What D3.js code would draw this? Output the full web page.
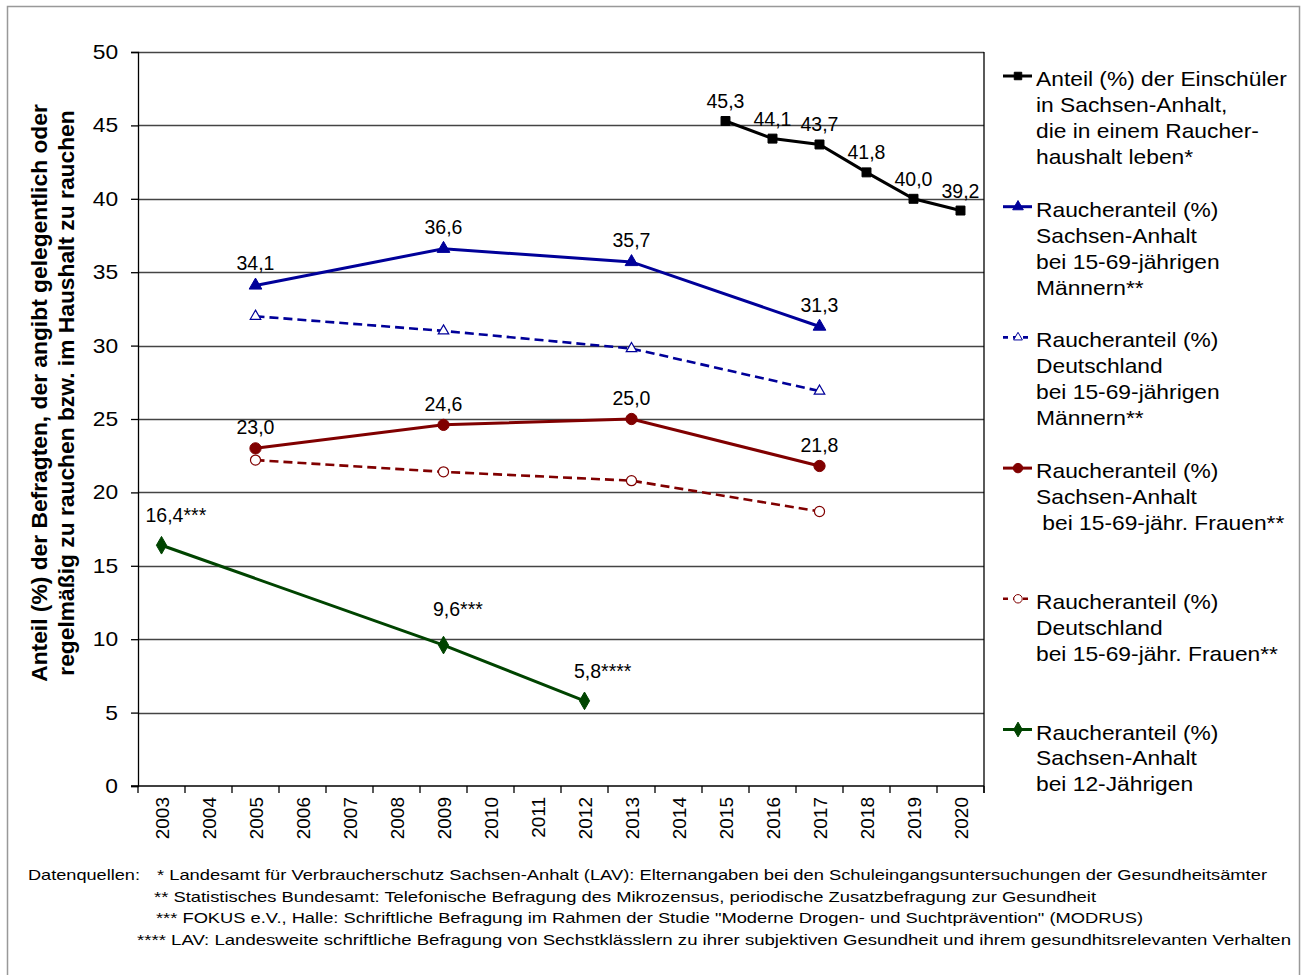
<!DOCTYPE html>
<html>
<head>
<meta charset="utf-8">
<script src="https://cdn.jsdelivr.net/npm/d3@7"></script>
<style>
body { margin: 0; background: #fff; }
text { font-family: "Liberation Sans", Arial, sans-serif; fill: #000; }
</style>
</head>
<body>
<div id="chart"></div>
<script>
var width = 1304, height = 975;

// data
var years = ["2003","2004","2005","2006","2007","2008","2009","2010","2011","2012","2013","2014","2015","2016","2017","2018","2019","2020"];
var yTicks = [0, 5, 10, 15, 20, 25, 30, 35, 40, 45, 50];

var einschuelerYears = ["2015","2016","2017","2018","2019","2020"];
var einschuelerVals = [45.3, 44.1, 43.7, 41.8, 40.0, 39.2];

var svYears = ["2005","2009","2013","2017"];
var saMen = [34.1, 36.6, 35.7, 31.3];
var deMen = [32.0, 31.0, 29.8, 26.9];
var saWomen = [23.0, 24.6, 25.0, 21.8];
var deWomen = [22.2, 21.4, 20.8, 18.7];

var kidsYears = ["2003","2009","2012"];
var kidsVals = [16.4, 9.6, 5.8];
var kidsStars = ["***", "***", "****"];

var legendLabels = [
	["Anteil (%) der Einschüler", "in Sachsen-Anhalt,", "die in einem Raucher-", "haushalt leben*"],
	["Raucheranteil (%)", "Sachsen-Anhalt", "bei 15-69-jährigen", "Männern**"],
	["Raucheranteil (%)", "Deutschland", "bei 15-69-jährigen", "Männern**"],
	["Raucheranteil (%)", "Sachsen-Anhalt", " bei 15-69-jähr. Frauen**"],
	["Raucheranteil (%)", "Deutschland", "bei 15-69-jähr. Frauen**"],
	["Raucheranteil (%)", "Sachsen-Anhalt", "bei 12-Jährigen"]
];

var yTitle = ["Anteil (%) der Befragten, der angibt gelegentlich oder",
	"regelmäßig zu rauchen bzw. im Haushalt zu rauchen"];

var sources = [
	"* Landesamt für Verbraucherschutz Sachsen-Anhalt (LAV): Elternangaben bei den Schuleingangsuntersuchungen der Gesundheitsämter",
	"** Statistisches Bundesamt: Telefonische Befragung des Mikrozensus, periodische Zusatzbefragung zur Gesundheit",
	"*** FOKUS e.V., Halle: Schriftliche Befragung im Rahmen der Studie \"Moderne Drogen- und Suchtprävention\" (MODRUS)",
	"**** LAV: Landesweite schriftliche Befragung von Sechstklässlern zu ihrer subjektiven Gesundheit und ihrem gesundhitsrelevanten Verhalten"
];

var fmt = function(v) { return d3.format(".1f")(v).replace(".", ","); };

var series = [
	{ x: einschuelerYears, v: einschuelerVals, color: "#000000", dash: null, sym: d3.symbolSquare, size: 80, fill: true, labels: true, stars: null, ldy: -13 },
	{ x: svYears, v: saMen, color: "#000099", dash: null, sym: d3.symbolTriangle, size: 70, fill: true, labels: true, stars: null, ldy: -15 },
	{ x: svYears, v: deMen, color: "#000099", dash: "9,5", sym: d3.symbolTriangle, size: 48, fill: false, labels: false },
	{ x: svYears, v: saWomen, color: "#800000", dash: null, sym: d3.symbolCircle, size: 100, fill: true, labels: true, stars: null, ldy: -14 },
	{ x: svYears, v: deWomen, color: "#800000", dash: "9,5", sym: d3.symbolCircle, size: 80, fill: false, labels: false },
	{ x: kidsYears, v: kidsVals, color: "#004400", dash: null, sym: d3.symbolDiamond, size: 90, fill: true, labels: true, stars: kidsStars, ldy: -23 }
];

var plotL = 138, plotR = 984, plotT = 52, plotB = 786;
var stretch = 1.14;   // reference text is a bit wider than Arial

var svg = d3.select("#chart").append("svg").attr("width", width).attr("height", height);

svg.append("rect").attr("x", 7.5).attr("y", 6.5).attr("width", 1292).attr("height", 975)
	.attr("fill", "#fff").attr("stroke", "#999").attr("stroke-width", 1.5);

var x = d3.scaleBand().domain(years).range([plotL, plotR]);
var y = d3.scaleLinear().domain([0, 50]).range([plotB, plotT]);
var cx = function(yr) { return x(yr) + x.bandwidth() / 2; };

//  gridlines
svg.append("g").selectAll("line").data(yTicks.slice(1)).enter().append("line")
	.attr("x1", plotL).attr("x2", plotR)
	.attr("y1", function(d) { return Math.round(y(d)) + .5; })
	.attr("y2", function(d) { return Math.round(y(d)) + .5; })
	.attr("stroke", "#444").attr("stroke-width", 1.3);

//  y axis
var yAxis = svg.append("g").attr("transform", "translate(" + plotL + ",0)")
	.call(d3.axisLeft(y).tickValues(yTicks).tickSize(7).tickPadding(10.5).tickFormat(d3.format("d")));
yAxis.selectAll("text").style("font-size", "20px").attr("fill", "#000")
	.attr("transform", "scale(" + stretch + ",1)");
yAxis.selectAll("line,path").attr("stroke", "#000").attr("stroke-width", 1.3);

//  x axis, ticks between categories
var xAxis = svg.append("g").attr("transform", "translate(0," + plotB + ")");
xAxis.append("line").attr("x1", plotL - 7).attr("x2", plotR).attr("stroke", "#000").attr("stroke-width", 1.3);
xAxis.selectAll("line.tk").data(years.concat(["end"])).enter().append("line").attr("class", "tk")
	.attr("x1", function(d, i) { return plotL + i * x.bandwidth(); })
	.attr("x2", function(d, i) { return plotL + i * x.bandwidth(); })
	.attr("y1", 0).attr("y2", 7).attr("stroke", "#000").attr("stroke-width", 1.3);
xAxis.selectAll("text").data(years).enter().append("text")
	.attr("transform", function(d) { return "translate(" + (cx(d) + 7) + ",11)rotate(-90)"; })
	.attr("text-anchor", "end").style("font-size", "19px").text(function(d) { return d; });

//  right border of plot
svg.append("line").attr("x1", plotR).attr("x2", plotR).attr("y1", plotT).attr("y2", plotB + 7)
	.attr("stroke", "#000").attr("stroke-width", 1.3);

//  series
var line = d3.line().x(function(d) { return cx(d.yr); }).y(function(d) { return y(d.v); });

series.forEach(function(s) {
	var pts = s.v.map(function(v, i) { return { yr: s.x[i], v: v, stars: s.stars ? s.stars[i] : "" }; });
	var g = svg.append("g");
	g.append("path").datum(pts).attr("d", line).attr("fill", "none")
		.attr("stroke", s.color).attr("stroke-width", s.dash ? 2.6 : 3)
		.attr("stroke-dasharray", s.dash);
	g.selectAll("path.m").data(pts).enter().append("path").attr("class", "m")
		.attr("transform", function(d) { return "translate(" + cx(d.yr) + "," + y(d.v) + ")"; })
		.attr("d", d3.symbol().type(s.sym).size(s.size))
		.attr("fill", s.fill ? s.color : "#fff")
		.attr("stroke", s.color).attr("stroke-width", s.fill ? 1 : 1.2);
	if (s.labels) {
		g.selectAll("text.lb").data(pts).enter().append("text").attr("class", "lb")
			.attr("x", function(d) { return cx(d.yr) + (d.stars ? 3 : 0); })
			.attr("y", function(d) { return y(d.v) + s.ldy + (d.yr === "2009" && d.stars ? -6 : 0); })
			.attr("text-anchor", "middle").style("font-size", "19.5px")
			.text(function(d) { return fmt(d.v); })
			.each(function(d) {
				if (!d.stars) return;
				var t = d3.select(this);
				g.append("text").attr("x", +t.attr("x") + this.getComputedTextLength() / 2)
					.attr("y", t.attr("y")).style("font-size", "19.5px").text(d.stars);
			});
	}
});

//  legend
var lg = svg.append("g").attr("transform", "translate(1003,76)");
series.forEach(function(s, i) {
	var e = lg.append("g").attr("transform", "translate(0," + i * 130.7 + ")");
	e.append("line").attr("x1", 0).attr("x2", 29).attr("stroke", s.color)
		.attr("stroke-width", s.dash ? 2.6 : 3).attr("stroke-dasharray", s.dash ? "5,5" : null);
	e.append("path").attr("transform", "translate(15,0)")
		.attr("d", d3.symbol().type(s.sym).size(s.size * 0.7))
		.attr("fill", s.fill ? s.color : "#fff").attr("stroke", s.color).attr("stroke-width", 1);
	e.append("g").attr("transform", "translate(33,0)scale(" + stretch + ",1)")
		.selectAll("text").data(legendLabels[i]).enter().append("text")
		.attr("x", 0).attr("y", function(d, j) { return 10 + j * 26; })
		.style("font-size", "20px").style("white-space", "pre")
		.text(function(d) { return d; });
});

//  y axis title
svg.selectAll("text.yt").data(yTitle).enter().append("text").attr("class", "yt")
	.attr("transform", function(d, i) { return "translate(" + (47 + i * 27) + ",393)rotate(-90)"; })
	.attr("text-anchor", "middle").style("font-size", "22.8px").style("font-weight", "bold")
	.text(function(d) { return d; });

//  sources
var srcX = [157, 154, 156, 137], srcW = [1110, 942, 987, 1154];
svg.append("text").attr("x", 28).attr("y", 880).style("font-size", "15px")
	.attr("textLength", 112).attr("lengthAdjust", "spacingAndGlyphs").text("Datenquellen:");
svg.selectAll("text.src").data(sources).enter().append("text").attr("class", "src")
	.attr("x", function(d, i) { return srcX[i]; })
	.attr("y", function(d, i) { return 880 + i * 21.5; })
	.attr("textLength", function(d, i) { return srcW[i]; })
	.attr("lengthAdjust", "spacingAndGlyphs")
	.style("font-size", "15px").style("white-space", "pre")
	.text(function(d) { return d; });
</script>
</body>
</html>
